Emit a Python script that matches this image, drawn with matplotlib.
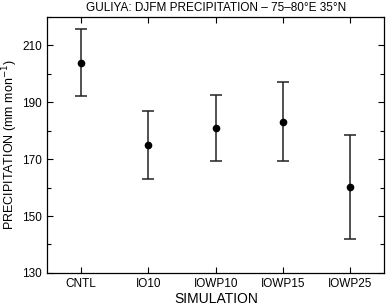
import matplotlib
matplotlib.use("Agg")
import matplotlib.pyplot as plt
from matplotlib.ticker import MultipleLocator

# data
simulations = ["CNTL", "IO10", "IOWP10", "IOWP15", "IOWP25"]
precip_mean = [203.8, 174.9, 181.0, 183.1, 160.2]
precip_high = [215.6, 186.9, 192.7, 197.0, 178.5]
precip_low = [192.1, 163.1, 169.3, 169.3, 141.8]

plt.rcParams["font.family"] = ["Liberation Sans", "DejaVu Sans"]

err_low = [m - lo for m, lo in zip(precip_mean, precip_low)]
err_high = [hi - m for m, hi in zip(precip_mean, precip_high)]
xpos = list(range(len(simulations)))

fig = plt.figure(figsize=(3.86, 3.07), dpi=100)
ax = fig.add_axes([0.123, 0.111, 0.872, 0.834])

ax.errorbar(xpos, precip_mean, yerr=[err_low, err_high], fmt="o",
            color="black", ecolor="#222222", elinewidth=1.1, capsize=4,
            capthick=1.1, markersize=4.5)

ax.set_xlim(-0.5, 4.5)
ax.set_ylim(130, 220)
ax.set_xticks(xpos)
ax.set_xticklabels(simulations)
ax.yaxis.set_major_locator(MultipleLocator(20))
ax.yaxis.set_minor_locator(MultipleLocator(10))
ax.set_yticks([130, 150, 170, 190, 210])

ax.tick_params(which="both", direction="in", top=True, right=True,
               labelsize=8.5, width=0.8, pad=4)
ax.tick_params(which="major", length=4)
ax.tick_params(which="minor", length=3)
for sp in ax.spines.values():
    sp.set_linewidth(0.9)

ax.set_xlabel("SIMULATION", fontsize=10, labelpad=1)
ax.set_ylabel("PRECIPITATION (mm mon$^{-1}$)", fontsize=9)
ax.yaxis.set_label_coords(-0.082, 0.5)
ax.set_title("GULIYA: DJFM PRECIPITATION \u2013 75\u201380\u00b0E 35\u00b0N",
             fontsize=8.5, pad=4)

fig.savefig("out.png", dpi=100)
